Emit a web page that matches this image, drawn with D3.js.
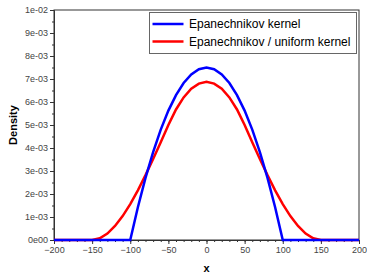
<!DOCTYPE html>
<html>
<head>
<meta charset="utf-8">
<script src="https://cdn.jsdelivr.net/npm/d3@7"></script>
<style>
  body { margin: 0; background: #fff; }
  text { font-family: 'Liberation Sans', Arial, sans-serif; }
</style>
</head>
<body>
<div id="chart"></div>
<script>
// x grid shared by both curves (-200 .. 200, step 10)
let xValues = d3.range(-200, 201, 10)

// Epanechnikov kernel
let epanHalf = [0, 0, 0, 0, 0, 0, 0, 0, 0, 0, 0,
  0.001425, 0.0027, 0.003825, 0.0048, 0.005625, 0.0063, 0.006825, 0.0072, 0.007425]
let epanPeak = 0.0075

// Epanechnikov / uniform kernel
let mixHalf = [0, 0, 0, 0, 0, 0, 0.0000725, 0.00028, 0.00061, 0.00104, 0.00156,
  0.00216, 0.00282, 0.00352, 0.00425, 0.005, 0.005675, 0.0062, 0.006575, 0.0068]
let mixPeak = 0.006875

let epanValues = epanHalf.concat([epanPeak], epanHalf.slice().reverse())
let mixValues = mixHalf.concat([mixPeak], mixHalf.slice().reverse())

let seriesNames = ['Epanechnikov kernel', 'Epanechnikov / uniform kernel']
let seriesColors = ['#0000ff', '#ff0000']

let xTicks = [-200, -150, -100, -50, 0, 50, 100, 150, 200]
let yTicks = [0, 0.001, 0.002, 0.003, 0.004, 0.005, 0.006, 0.007, 0.008, 0.009, 0.01]
let yTickLabels = ['0e00', '1e-03', '2e-03', '3e-03', '4e-03', '5e-03', '6e-03', '7e-03', '8e-03', '9e-03', '1e-02']

let margin = { top: 10, left: 54, right: 8, bottom: 34 }
let width = 367 - margin.left - margin.right
let height = 274 - margin.top - margin.bottom

let svg = d3
  .select('#chart')
  .append('svg')
  .attr('width', 367)
  .attr('height', 274)
  .append('g')
  .attr('transform', 'translate(' + margin.left + ',' + margin.top + ')')

let xPositionScale = d3.scaleLinear().domain([-200, 200]).range([0, width])
let yPositionScale = d3.scaleLinear().domain([0, 0.01]).range([height, 0])

// minor ticks
let xMinor = d3.range(-200, 201, 10)
let yMinor = d3.range(0, 0.01001, 0.0005)

svg
  .append('g')
  .attr('class', 'axis x-axis')
  .attr('transform', 'translate(0,' + height + ')')
  .call(d3.axisBottom(xPositionScale).tickValues(xMinor).tickSize(2).tickFormat(''))
  .call(g => g.select('.domain').remove())

svg
  .append('g')
  .attr('class', 'axis y-axis')
  .call(d3.axisLeft(yPositionScale).tickValues(yMinor).tickSize(2).tickFormat(''))
  .call(g => g.select('.domain').remove())

let xAxis = d3
  .axisBottom(xPositionScale)
  .tickValues(xTicks)
  .tickSize(4)
  .tickPadding(3)
svg
  .append('g')
  .attr('class', 'axis x-axis')
  .attr('transform', 'translate(0,' + height + ')')
  .call(xAxis)

let yAxis = d3
  .axisLeft(yPositionScale)
  .tickValues(yTicks)
  .tickFormat((d, i) => yTickLabels[i])
  .tickSize(4)
  .tickPadding(2)
svg
  .append('g')
  .attr('class', 'axis y-axis')
  .call(yAxis)

svg.selectAll('.axis text')
  .attr('font-size', 9)
  .attr('font-family', "'Liberation Sans', Arial, sans-serif")
  .attr('fill', '#444')
svg.selectAll('.axis line, .axis path').attr('stroke', '#333')

// box frame
svg
  .append('rect')
  .attr('x', 0)
  .attr('y', 0)
  .attr('width', width)
  .attr('height', height)
  .attr('fill', 'none')
  .attr('stroke', '#333')
  .attr('stroke-width', 1)

let line = d3
  .line()
  .x((d, i) => xPositionScale(xValues[i]))
  .y(d => yPositionScale(d))

svg
  .append('path')
  .datum(mixValues)
  .attr('d', line)
  .attr('fill', 'none')
  .attr('stroke', seriesColors[1])
  .attr('stroke-width', 2.5)

svg
  .append('path')
  .datum(epanValues)
  .attr('d', line)
  .attr('fill', 'none')
  .attr('stroke', seriesColors[0])
  .attr('stroke-width', 2.5)

// legend
let legend = svg.append('g').attr('transform', 'translate(' + (149.5 - margin.left) + ',' + (12.5 - margin.top) + ')')
legend
  .append('rect')
  .attr('width', 207)
  .attr('height', 41)
  .attr('fill', '#fff')
  .attr('stroke', '#666')

seriesNames.forEach((name, i) => {
  legend
    .append('line')
    .attr('x1', 3)
    .attr('x2', 34)
    .attr('y1', 11.5 + i * 17.5)
    .attr('y2', 11.5 + i * 17.5)
    .attr('stroke', seriesColors[i])
    .attr('stroke-width', 2.5)
  legend
    .append('text')
    .attr('x', 39.5)
    .attr('y', 15.5 + i * 17.5)
    .attr('font-size', 12)
    .attr('fill', '#000')
    .text(name)
})

// axis titles
svg
  .append('text')
  .attr('x', width / 2)
  .attr('y', height + 32)
  .attr('text-anchor', 'middle')
  .attr('font-size', 11)
  .attr('font-weight', 'bold')
  .text('x')

svg
  .append('text')
  .attr('transform', 'translate(' + (17 - margin.left) + ',' + (125 - margin.top) + ') rotate(-90)')
  .attr('text-anchor', 'middle')
  .attr('font-size', 11)
  .attr('font-weight', 'bold')
  .text('Density')
</script>
</body>
</html>
